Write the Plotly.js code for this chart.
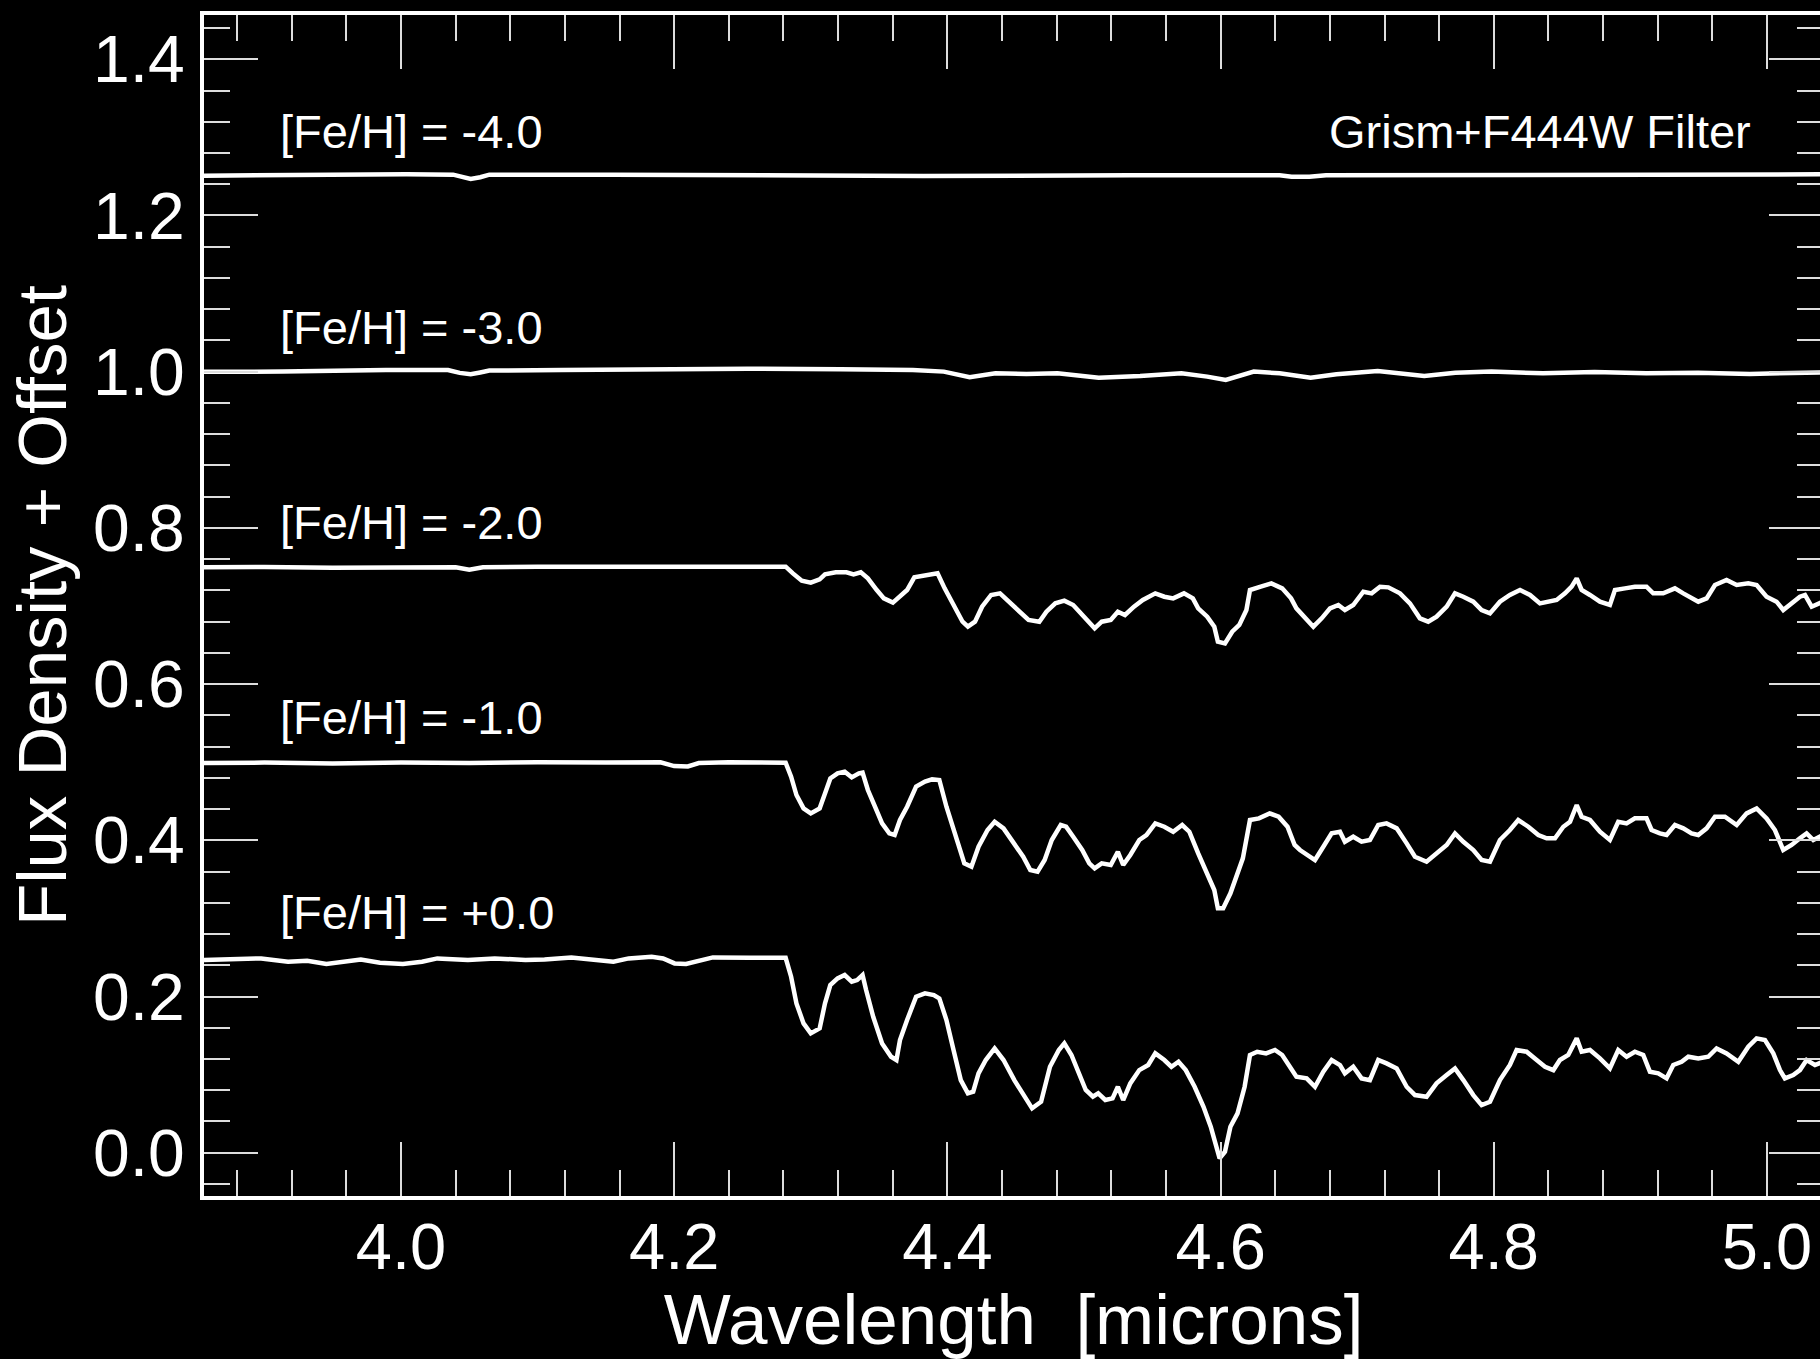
<!DOCTYPE html>
<html><head><meta charset="utf-8">
<script src="https://cdn.plot.ly/plotly-3.0.1.min.js"></script>
<style>html,body{margin:0;padding:0;background:#000;overflow:hidden;}</style>
</head><body><div id="chart"></div>
<script>
// ---- data (wavelength in microns, flux density + offset) ----
const seriesLabels = ["[Fe/H] = -4.0", "[Fe/H] = -3.0", "[Fe/H] = -2.0", "[Fe/H] = -1.0", "[Fe/H] = +0.0"];
const seriesOffsets = [1.25, 1.0, 0.75, 0.5, 0.25];
const filterLabel = "Grism+F444W Filter";

const wave_m40 = [3.8558, 3.9285, 4.0041, 4.0382, 4.0450, 4.0510, 4.0580, 4.0647, 4.1554, 4.2461, 4.3823, 4.5335, 4.6432, 4.6520, 4.6583, 4.6650, 4.6772, 4.8360, 5.0410];
const flux_m40 = [1.2510, 1.2523, 1.2527, 1.2523, 1.2490, 1.2468, 1.2490, 1.2523, 1.2523, 1.2515, 1.2506, 1.2515, 1.2515, 1.2495, 1.2489, 1.2495, 1.2515, 1.2523, 1.2527];

const wave_m30 = [3.8558, 3.9134, 3.9890, 4.0344, 4.0430, 4.0510, 4.0580, 4.0647, 4.1176, 4.1932, 4.2537, 4.3218, 4.3747, 4.3974, 4.4163, 4.4352, 4.4579, 4.4806, 4.5108, 4.5411, 4.5713, 4.5902, 4.6038, 4.6243, 4.6432, 4.6659, 4.6848, 4.7150, 4.7491, 4.7718, 4.7982, 4.8360, 4.8738, 4.9116, 4.9495, 4.9873, 5.0213, 5.0410];
const flux_m30 = [1.0000, 1.0001, 1.0022, 1.0022, 0.9985, 0.9967, 0.9990, 1.0014, 1.0022, 1.0031, 1.0039, 1.0031, 1.0022, 1.0001, 0.9928, 0.9979, 0.9971, 0.9979, 0.9924, 0.9945, 0.9979, 0.9937, 0.9894, 1.0001, 0.9979, 0.9924, 0.9967, 1.0009, 0.9945, 0.9988, 1.0001, 0.9979, 0.9996, 0.9979, 0.9988, 0.9971, 0.9988, 0.9992];

const wave_m20 = [3.8558, 3.9000, 3.9500, 4.0000, 4.0400, 4.0500, 4.0600, 4.1000, 4.1500, 4.2000, 4.2500, 4.2816,
  4.2869, 4.2934, 4.3000, 4.3065, 4.3104, 4.3183, 4.3261, 4.3313, 4.3366, 4.3418, 4.3483, 4.3535, 4.3601, 4.3653, 4.3705, 4.3758, 4.3836, 4.3928, 4.3980,
  4.4045, 4.4111, 4.4150, 4.4202, 4.4254, 4.4320, 4.4385, 4.4437, 4.4516, 4.4594, 4.4673, 4.4725, 4.4790, 4.4856, 4.4921, 4.4987, 4.5052, 4.5078, 4.5130,
  4.5196, 4.5248, 4.5300, 4.5366, 4.5431, 4.5522, 4.5588, 4.5653, 4.5732, 4.5797, 4.5836, 4.5902, 4.5954, 4.5980, 4.6032, 4.6085, 4.6137, 4.6189, 4.6215,
  4.6294, 4.6372, 4.6451, 4.6516, 4.6555, 4.6630, 4.6679, 4.6740, 4.6801, 4.6862, 4.6910, 4.6971, 4.7045, 4.7106, 4.7167, 4.7228, 4.7313, 4.7386, 4.7459,
  4.7520, 4.7581, 4.7655, 4.7716, 4.7777, 4.7850, 4.7911, 4.7972, 4.8045, 4.8118, 4.8192, 4.8265, 4.8338, 4.8399, 4.8460, 4.8521, 4.8570, 4.8607, 4.8643,
  4.8704, 4.8777, 4.8850, 4.8887, 4.8960, 4.9033, 4.9118, 4.9167, 4.9240, 4.9326, 4.9387, 4.9460, 4.9497, 4.9558, 4.9619, 4.9704, 4.9778, 4.9863, 4.9924,
  4.9997, 5.0070, 5.0119, 5.0180, 5.0241, 5.0278, 5.0327, 5.0410];
const flux_m20 = [0.7495, 0.7500, 0.7490, 0.7500, 0.7495, 0.7465, 0.7495, 0.7502, 0.7500, 0.7505, 0.7504, 0.7504,
  0.7418, 0.7324, 0.7299, 0.7341, 0.7405, 0.7431, 0.7431, 0.7405, 0.7431, 0.7354, 0.7205, 0.7098, 0.7043, 0.7119, 0.7205, 0.7367, 0.7397, 0.7418, 0.7226,
  0.7013, 0.6799, 0.6735, 0.6799, 0.6991, 0.7141, 0.7162, 0.7077, 0.6949, 0.6821, 0.6799, 0.6927, 0.7034, 0.7068, 0.7013, 0.6885, 0.6778, 0.6714, 0.6799,
  0.6821, 0.6927, 0.6885, 0.6991, 0.7077, 0.7162, 0.7119, 0.7098, 0.7162, 0.7098, 0.6970, 0.6863, 0.6735, 0.6543, 0.6522, 0.6671, 0.6757, 0.6949, 0.7205,
  0.7247, 0.7290, 0.7226, 0.7098, 0.6970, 0.6821, 0.6735, 0.6842, 0.6970, 0.7013, 0.6949, 0.7013, 0.7183, 0.7162, 0.7247, 0.7239, 0.7162, 0.7034, 0.6842,
  0.6799, 0.6863, 0.6991, 0.7162, 0.7119, 0.7055, 0.6949, 0.6906, 0.7055, 0.7141, 0.7205, 0.7141, 0.7034, 0.7055, 0.7077, 0.7162, 0.7247, 0.7354, 0.7205,
  0.7141, 0.7055, 0.7013, 0.7205, 0.7226, 0.7247, 0.7247, 0.7162, 0.7162, 0.7226, 0.7162, 0.7098, 0.7055, 0.7098, 0.7269, 0.7333, 0.7269, 0.7290, 0.7269,
  0.7119, 0.7055, 0.6949, 0.7034, 0.7119, 0.7141, 0.6991, 0.7055];

const wave_m10 = [3.8558, 3.9000, 3.9500, 4.0000, 4.0500, 4.1000, 4.1500, 4.1900, 4.2000, 4.2100, 4.2180, 4.2400, 4.2816,
  4.2856, 4.2895, 4.2947, 4.3000, 4.3065, 4.3104, 4.3143, 4.3196, 4.3248, 4.3300, 4.3352, 4.3379, 4.3418, 4.3470, 4.3522, 4.3575, 4.3614, 4.3653, 4.3705,
  4.3771, 4.3836, 4.3888, 4.3941, 4.3993, 4.4058, 4.4124, 4.4176, 4.4228, 4.4294, 4.4346, 4.4411, 4.4490, 4.4555, 4.4607, 4.4660, 4.4712, 4.4764, 4.4830,
  4.4869, 4.4921, 4.4987, 4.5039, 4.5078, 4.5130, 4.5196, 4.5248, 4.5287, 4.5339, 4.5405, 4.5457, 4.5522, 4.5588, 4.5653, 4.5719, 4.5771, 4.5836, 4.5902,
  4.5954, 4.5980, 4.6019, 4.6072, 4.6111, 4.6163, 4.6215, 4.6281, 4.6359, 4.6425, 4.6490, 4.6542, 4.6581, 4.6630, 4.6691, 4.6752, 4.6813, 4.6874, 4.6910,
  4.6971, 4.7032, 4.7093, 4.7154, 4.7215, 4.7289, 4.7362, 4.7423, 4.7508, 4.7581, 4.7655, 4.7716, 4.7777, 4.7850, 4.7911, 4.7972, 4.8045, 4.8118, 4.8179,
  4.8253, 4.8326, 4.8387, 4.8448, 4.8509, 4.8558, 4.8607, 4.8643, 4.8704, 4.8777, 4.8850, 4.8911, 4.8972, 4.9033, 4.9118, 4.9155, 4.9216, 4.9265, 4.9326,
  4.9387, 4.9448, 4.9497, 4.9558, 4.9619, 4.9692, 4.9778, 4.9851, 4.9924, 4.9997, 5.0058, 5.0119, 5.0180, 5.0241, 5.0290, 5.0339, 5.0410];
const flux_m10 = [0.4990, 0.4995, 0.4985, 0.4995, 0.4990, 0.5000, 0.4995, 0.4998, 0.4950, 0.4945, 0.4990, 0.4998, 0.4994,
  0.4815, 0.4580, 0.4409, 0.4345, 0.4409, 0.4601, 0.4793, 0.4857, 0.4879, 0.4806, 0.4857, 0.4866, 0.4644, 0.4430, 0.4217, 0.4089, 0.4068, 0.4260, 0.4430,
  0.4687, 0.4751, 0.4780, 0.4772, 0.4430, 0.4089, 0.3705, 0.3662, 0.3918, 0.4132, 0.4238, 0.4153, 0.3940, 0.3790, 0.3620, 0.3598, 0.3748, 0.4004, 0.4196,
  0.4174, 0.4046, 0.3876, 0.3705, 0.3641, 0.3705, 0.3684, 0.3854, 0.3684, 0.3812, 0.4004, 0.4068, 0.4217, 0.4174, 0.4110, 0.4196, 0.4110, 0.3833, 0.3577,
  0.3364, 0.3129, 0.3129, 0.3321, 0.3513, 0.3769, 0.4260, 0.4281, 0.4345, 0.4302, 0.4174, 0.3940, 0.3876, 0.3812, 0.3748, 0.3918, 0.4089, 0.4110, 0.3982,
  0.4046, 0.3982, 0.4004, 0.4196, 0.4217, 0.4153, 0.3961, 0.3790, 0.3726, 0.3833, 0.3940, 0.4089, 0.3982, 0.3876, 0.3748, 0.3726, 0.4004, 0.4132, 0.4260,
  0.4174, 0.4068, 0.4025, 0.4025, 0.4174, 0.4238, 0.4452, 0.4302, 0.4260, 0.4110, 0.4004, 0.4238, 0.4217, 0.4281, 0.4281, 0.4132, 0.4089, 0.4068, 0.4196,
  0.4153, 0.4089, 0.4068, 0.4153, 0.4302, 0.4302, 0.4196, 0.4345, 0.4409, 0.4281, 0.4132, 0.3876, 0.3940, 0.4025, 0.4089, 0.4004, 0.4068];

const wave_p00 = [3.8558, 3.8809, 3.8977, 3.9173, 3.9313, 3.9454, 3.9594, 3.9706, 3.9846, 4.0014, 4.0154, 4.0266, 4.0490, 4.0686, 4.0911, 4.1051,
  4.1247, 4.1443, 4.1555, 4.1667, 4.1835, 4.1919, 4.2003, 4.2087, 4.2171, 4.2283, 4.2555, 4.2816,
  4.2856, 4.2895, 4.2947, 4.3000, 4.3065, 4.3104, 4.3143, 4.3196, 4.3248, 4.3300, 4.3339, 4.3379, 4.3405, 4.3457, 4.3522, 4.3588, 4.3627, 4.3653, 4.3705,
  4.3771, 4.3836, 4.3901, 4.3941, 4.3993, 4.4045, 4.4098, 4.4150, 4.4189, 4.4228, 4.4281, 4.4346, 4.4411, 4.4490, 4.4555, 4.4620, 4.4686, 4.4751, 4.4816,
  4.4856, 4.4908, 4.4960, 4.5013, 4.5065, 4.5104, 4.5156, 4.5209, 4.5248, 4.5287, 4.5339, 4.5405, 4.5470, 4.5522, 4.5588, 4.5640, 4.5692, 4.5745, 4.5810,
  4.5875, 4.5928, 4.5967, 4.5993, 4.6032, 4.6072, 4.6124, 4.6176, 4.6215, 4.6268, 4.6333, 4.6398, 4.6451, 4.6503, 4.6555, 4.6630, 4.6691, 4.6752, 4.6813,
  4.6874, 4.6910, 4.6971, 4.7032, 4.7093, 4.7154, 4.7215, 4.7289, 4.7362, 4.7423, 4.7508, 4.7581, 4.7655, 4.7716, 4.7777, 4.7850, 4.7911, 4.7972, 4.8045,
  4.8118, 4.8167, 4.8240, 4.8314, 4.8375, 4.8436, 4.8484, 4.8545, 4.8607, 4.8643, 4.8704, 4.8777, 4.8850, 4.8911, 4.8972, 4.9033, 4.9094, 4.9143, 4.9204,
  4.9265, 4.9314, 4.9375, 4.9424, 4.9497, 4.9570, 4.9631, 4.9704, 4.9790, 4.9863, 4.9924, 4.9985, 5.0046, 5.0095, 5.0131, 5.0192, 5.0241, 5.0290, 5.0351, 5.0410];
const flux_p00 = [0.2467, 0.2488, 0.2488, 0.2446, 0.2458, 0.2416, 0.2446, 0.2475, 0.2433, 0.2416, 0.2446, 0.2488, 0.2467, 0.2488, 0.2467, 0.2475,
  0.2501, 0.2458, 0.2446, 0.2488, 0.2510, 0.2488, 0.2424, 0.2416, 0.2458, 0.2501, 0.2495, 0.2495,
  0.2254, 0.1912, 0.1656, 0.1528, 0.1592, 0.1912, 0.2147, 0.2232, 0.2275, 0.2190, 0.2211, 0.2275, 0.2083, 0.1741, 0.1400, 0.1229, 0.1187, 0.1443, 0.1699,
  0.1998, 0.2040, 0.2019, 0.1976, 0.1699, 0.1315, 0.0930, 0.0760, 0.0781, 0.1016, 0.1187, 0.1336, 0.1187, 0.0930, 0.0760, 0.0568, 0.0653, 0.1101, 0.1315,
  0.1400, 0.1251, 0.1016, 0.0803, 0.0717, 0.0760, 0.0675, 0.0696, 0.0845, 0.0675, 0.0888, 0.1058, 0.1123, 0.1272, 0.1187, 0.1101, 0.1165, 0.1058, 0.0845,
  0.0589, 0.0333, 0.0077, -0.0072, 0.0013, 0.0333, 0.0504, 0.0845, 0.1251, 0.1293, 0.1272, 0.1315, 0.1251, 0.1101, 0.0973, 0.0952, 0.0845, 0.1037, 0.1187,
  0.1123, 0.1016, 0.1101, 0.0952, 0.0930, 0.1187, 0.1144, 0.1080, 0.0845, 0.0738, 0.0717, 0.0888, 0.0994, 0.1080, 0.0930, 0.0738, 0.0610, 0.0653, 0.0930,
  0.1123, 0.1315, 0.1293, 0.1187, 0.1101, 0.1058, 0.1187, 0.1251, 0.1464, 0.1293, 0.1315, 0.1208, 0.1080, 0.1315, 0.1229, 0.1293, 0.1251, 0.1037, 0.1016,
  0.0952, 0.1123, 0.1165, 0.1229, 0.1208, 0.1229, 0.1336, 0.1272, 0.1165, 0.1357, 0.1464, 0.1443, 0.1272, 0.1058, 0.0952, 0.0994, 0.1058, 0.1187, 0.1123, 0.1165];

const xTitle = "Wavelength  [microns]";
const yTitle = "Flux Density + Offset";

// ---- plot ----
const waves = [wave_m40, wave_m30, wave_m20, wave_m10, wave_p00];
const fluxes = [flux_m40, flux_m30, flux_m20, flux_m10, flux_p00];
const FONT = "Liberation Sans, Arial, Helvetica, sans-serif";

const traces = waves.map((w, i) => ({
  x: w, y: fluxes[i], type: "scatter", mode: "lines",
  name: seriesLabels[i], line: {color: "#ffffff", width: 4.5}, hoverinfo: "skip"
}));

const annotations = seriesLabels.map((t, i) => ({
  x: 3.91, y: seriesOffsets[i] + 0.057, xref: "x", yref: "y", text: t, showarrow: false,
  xanchor: "left", yanchor: "middle", font: {family: FONT, size: 47, color: "#ffffff"}
}));
annotations.push({
  x: 4.99, y: seriesOffsets[0] + 0.057, xref: "x", yref: "y", text: filterLabel, showarrow: false,
  xanchor: "right", yanchor: "middle", font: {family: FONT, size: 47, color: "#ffffff"}
});

const tickCol = "#dddddd";
const layout = {
  width: 1826, height: 1359,
  margin: {l: 204, r: 3, t: 15, b: 163},
  paper_bgcolor: "#000000", plot_bgcolor: "#000000",
  showlegend: false,
  xaxis: {
    range: [3.8558, 5.041], showgrid: false, zeroline: false,
    showline: true, linecolor: "#ffffff", linewidth: 4, mirror: "ticks",
    ticks: "inside", ticklen: 54, tickwidth: 2, tickcolor: tickCol,
    tick0: 0, dtick: 0.2, tickformat: ".1f",
    minor: {ticks: "inside", ticklen: 26, tickwidth: 2, tickcolor: tickCol, dtick: 0.04, showgrid: false},
    tickfont: {family: FONT, size: 65, color: "#ffffff"}, ticklabelstandoff: -9,
    title: {text: xTitle, font: {family: FONT, size: 71, color: "#ffffff"}, standoff: 22}
  },
  yaxis: {
    range: [-0.0554, 1.4567], showgrid: false, zeroline: false,
    showline: true, linecolor: "#ffffff", linewidth: 4, mirror: "ticks",
    ticks: "inside", ticklen: 54, tickwidth: 2, tickcolor: tickCol,
    tick0: 0, dtick: 0.2, tickformat: ".1f",
    minor: {ticks: "inside", ticklen: 26, tickwidth: 2, tickcolor: tickCol, dtick: 0.04, showgrid: false},
    tickfont: {family: FONT, size: 66, color: "#ffffff"}, ticklabelstandoff: 2,
    title: {text: yTitle, font: {family: FONT, size: 69, color: "#ffffff"}, standoff: 5}
  },
  annotations: annotations
};

Plotly.newPlot("chart", traces, layout, {staticPlot: true, displayModeBar: false});
</script>
</body></html>
